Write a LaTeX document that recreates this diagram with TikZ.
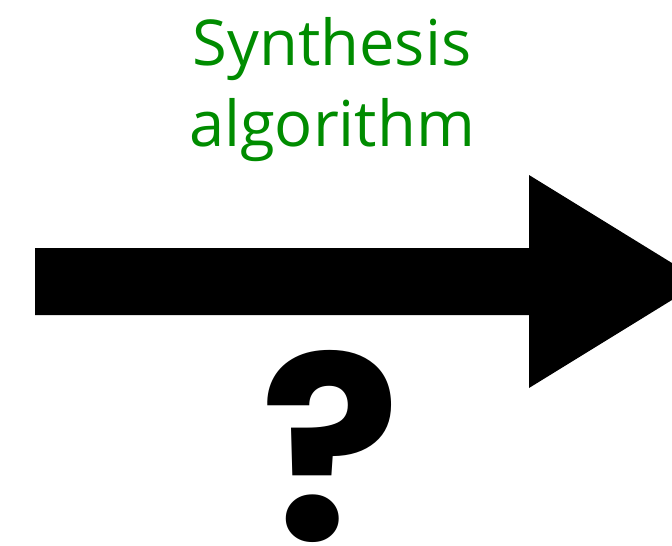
\documentclass[tikz,border=0pt]{standalone}
\usepackage{fontspec}
\usepackage{graphicx}
\setmainfont{Open Sans}
\newfontfamily\qfont{Poppins}
\usetikzlibrary{positioning, calc}
\definecolor{labelgreen}{RGB}{0, 140, 0}

\begin{document}
\begin{tikzpicture}[
    x=0.025cm, y=-0.025cm,
    biglabel/.style={font=\fontsize{45}{57.6}\selectfont, text=labelgreen,
                     align=center, inner sep=0pt},
    bigarrow/.style={fill=black, draw=none},
    mystery/.style={inner sep=0pt, text=black},
]

% ============================================================
% FRAME
% ============================================================
\clip (0, 0) rectangle (672, 546);
\useasboundingbox (0, 0) rectangle (672, 546);

% ============================================================
% ARROW
% ============================================================
\coordinate (tail) at (35, 281.5);
\coordinate (tip) at (702, 281.5);
\fill[bigarrow] ($(tail) + (0, -33.5)$) -- (529, 248) -- (529, 175) -- (tip)
    -- (529, 388) -- (529, 315) -- ($(tail) + (0, 33.5)$) -- cycle;

% ============================================================
% LABELS
% ============================================================
\node[biglabel, anchor=north] (algo) at (332, 17) {Synthesis\\algorithm};

\node[mystery, anchor=south] (question) at (331, 543)
    {\resizebox{3.5cm}{4.75cm}{\qfont\bfseries ?}};

\end{tikzpicture}
\end{document}
